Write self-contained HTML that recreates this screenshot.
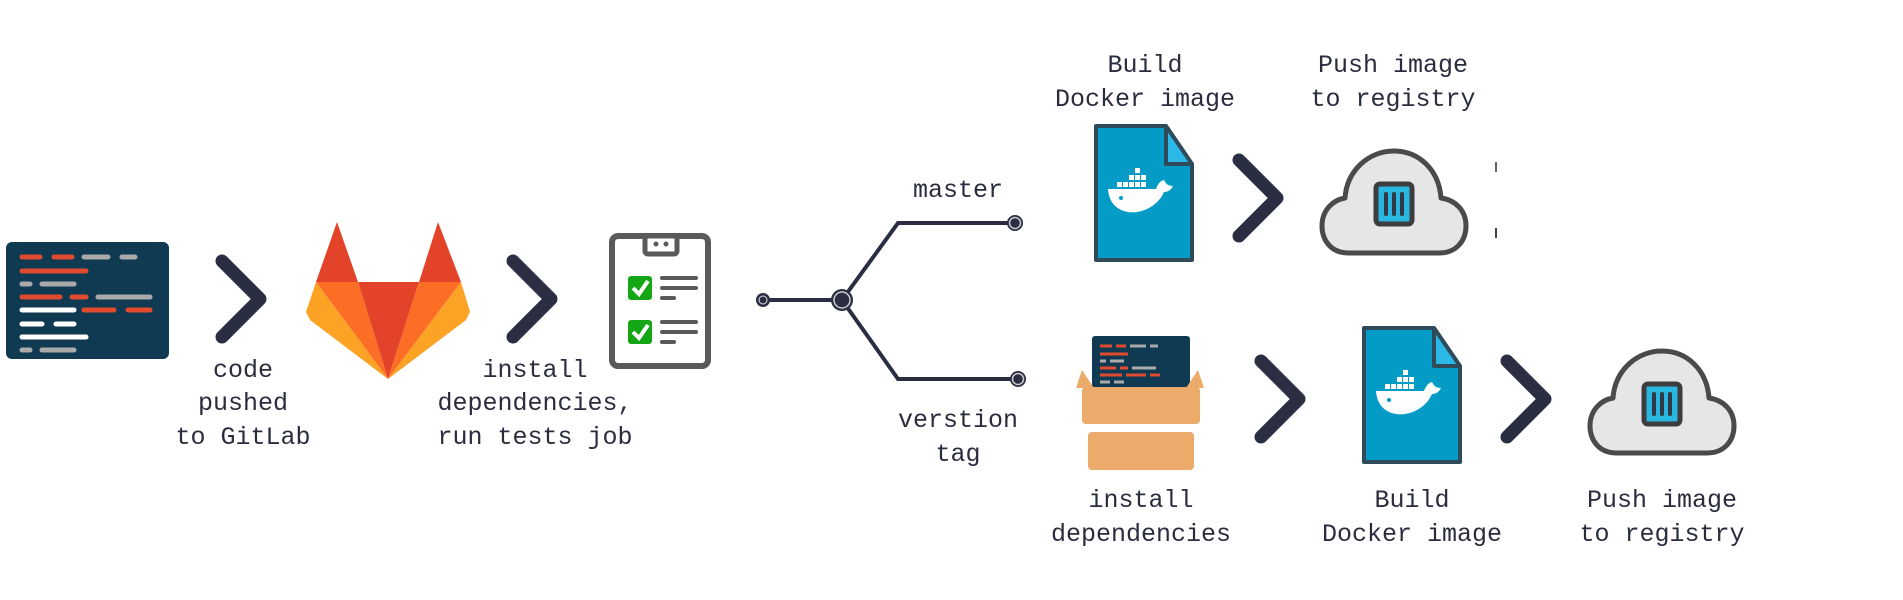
<!DOCTYPE html>
<html><head><meta charset="utf-8"><style>
html,body{margin:0;padding:0;background:#fff;}
svg{display:block}
text{font-family:"Liberation Mono",monospace;font-size:25px;fill:#2a2d3e;text-anchor:middle}
</style></head><body>
<svg width="1903" height="600" viewBox="0 0 1903 600" xmlns="http://www.w3.org/2000/svg">
<defs>
<g id="chev"><polyline points="0,0 38,38 0,76" fill="none" stroke="#2b2d42" stroke-width="13" stroke-linecap="round" stroke-linejoin="round"/></g>
<g id="dock">
  <path d="M2,2 H72 L98,40 V136 H2 Z" fill="#049bc6" stroke="#2f4b5a" stroke-width="4" stroke-linejoin="round"/>
  <path d="M72,2 V40 H98 Z" fill="#2cb8e6" stroke="#2f4b5a" stroke-width="4" stroke-linejoin="round"/>
  <g fill="#fff">
    <rect x="41" y="44" width="5" height="5"/>
    <rect x="35" y="51" width="5" height="5"/><rect x="41" y="51" width="5" height="5"/><rect x="47" y="51" width="5" height="5"/>
    <rect x="23" y="58" width="5" height="5"/><rect x="29" y="58" width="5" height="5"/><rect x="35" y="58" width="5" height="5"/><rect x="41" y="58" width="5" height="5"/><rect x="47" y="58" width="5" height="5"/>
    <path d="M14,65 H62 C64,60 66,57 70,56 C72,60 74,62 79,62 C77,66 74,68 70,68 C64,82 48,90 34,88 C22,86 15,78 14,65 Z"/>
  </g>
  <circle cx="27" cy="74" r="2" fill="#049bc6"/>
</g>
<g id="cloud">
  <path d="M30,105 C10,105 3,90 3,78 C3,62 14,52 26,50 C28,22 50,3 75,3 C100,3 120,22 122,50 C136,52 147,62 147,78 C147,92 138,105 120,105 Z" fill="#e6e6e6" stroke="#4a4a4a" stroke-width="5" stroke-linejoin="round"/>
  <rect x="57" y="36" width="36" height="40" rx="4" fill="#29b6e0" stroke="#3d3d3d" stroke-width="5"/>
  <g stroke="#2f3a44" stroke-width="4" stroke-linecap="round"><line x1="67" y1="46" x2="67" y2="66"/><line x1="75" y1="46" x2="75" y2="66"/><line x1="83" y1="46" x2="83" y2="66"/></g>
</g>
</defs>

<!-- code box -->
<rect x="6" y="242" width="163" height="117" rx="6" fill="#0f3a52"/>
<g stroke-width="5" stroke-linecap="round">
  <line x1="22" y1="257" x2="40" y2="257" stroke="#e04a2f"/><line x1="54" y1="257" x2="72" y2="257" stroke="#e04a2f"/><line x1="84" y1="257" x2="108" y2="257" stroke="#aaa"/><line x1="122" y1="257" x2="135" y2="257" stroke="#aaa"/>
  <line x1="22" y1="271" x2="86" y2="271" stroke="#e04a2f"/>
  <line x1="22" y1="284" x2="30" y2="284" stroke="#aaa"/><line x1="42" y1="284" x2="74" y2="284" stroke="#aaa"/>
  <line x1="22" y1="297" x2="60" y2="297" stroke="#e04a2f"/><line x1="72" y1="297" x2="86" y2="297" stroke="#e04a2f"/><line x1="98" y1="297" x2="150" y2="297" stroke="#aaa"/>
  <line x1="22" y1="310" x2="74" y2="310" stroke="#fff"/><line x1="84" y1="310" x2="114" y2="310" stroke="#e04a2f"/><line x1="128" y1="310" x2="150" y2="310" stroke="#e04a2f"/>
  <line x1="22" y1="324" x2="42" y2="324" stroke="#fff"/><line x1="56" y1="324" x2="74" y2="324" stroke="#fff"/>
  <line x1="22" y1="337" x2="86" y2="337" stroke="#fff"/>
  <line x1="22" y1="350" x2="30" y2="350" stroke="#aaa"/><line x1="42" y1="350" x2="74" y2="350" stroke="#aaa"/>
</g>
<line x1="22" y1="363" x2="0" y2="363" stroke="none"/>
<g stroke-width="5" stroke-linecap="round"><line x1="22" y1="350" x2="22" y2="350" stroke="none"/></g>

<use href="#chev" x="222" y="261"/>
<!-- gitlab -->
<polygon points="316,282 337,222 358,282" fill="#e24329"/>
<polygon points="419,282 438,222 461,282" fill="#e24329"/>
<polygon points="358,282 419,282 388,379" fill="#e24329"/>
<polygon points="316,282 358,282 388,379" fill="#fc6d26"/>
<polygon points="419,282 461,282 388,379" fill="#fc6d26"/>
<polygon points="316,282 306,312 310,320 388,379" fill="#fca326"/>
<polygon points="461,282 470,312 466,320 388,379" fill="#fca326"/>
<use href="#chev" x="513" y="261"/>
<!-- clipboard -->
<rect x="612" y="236" width="96" height="130" rx="6" fill="#fff" stroke="#5a5a5a" stroke-width="6"/>
<rect x="645" y="236" width="32" height="18" rx="3" fill="#fff" stroke="#5a5a5a" stroke-width="5"/>
<circle cx="656" cy="244" r="2.5" fill="#5a5a5a"/><circle cx="666" cy="244" r="2.5" fill="#5a5a5a"/>
<rect x="628" y="276" width="24" height="24" rx="3" fill="#14a614"/>
<rect x="628" y="320" width="24" height="24" rx="3" fill="#14a614"/>
<polyline points="633,288 639,294 648,281" fill="none" stroke="#fff" stroke-width="4"/>
<polyline points="633,332 639,338 648,325" fill="none" stroke="#fff" stroke-width="4"/>
<g stroke="#5a5a5a" stroke-width="4" stroke-linecap="round">
<line x1="662" y1="278" x2="696" y2="278"/><line x1="662" y1="288" x2="696" y2="288"/><line x1="662" y1="298" x2="674" y2="298"/>
<line x1="662" y1="322" x2="696" y2="322"/><line x1="662" y1="332" x2="696" y2="332"/><line x1="662" y1="342" x2="674" y2="342"/>
</g>

<text x="243" y="377">code</text>
<text x="243" y="410">pushed</text>
<text x="243" y="444">to GitLab</text>
<text x="535" y="377">install</text>
<text x="535" y="410">dependencies,</text>
<text x="535" y="444">run tests job</text>

<!-- branch -->
<g stroke="#2b2d42" stroke-width="4" fill="none">
<line x1="763" y1="300" x2="842" y2="300"/>
<polyline points="842,300 898,223 1015,223"/>
<polyline points="842,300 898,379 1018,379"/>
</g>
<circle cx="763" cy="300" r="7" fill="#2b2d42" stroke="#fff" stroke-width="0"/><circle cx="763" cy="300" r="4" fill="none" stroke="#ddd" stroke-width="1"/>
<circle cx="842" cy="300" r="11" fill="#2b2d42"/><circle cx="842" cy="300" r="8" fill="none" stroke="#ccc" stroke-width="1.5"/>
<circle cx="1015" cy="223" r="8" fill="#2b2d42"/><circle cx="1015" cy="223" r="5.5" fill="none" stroke="#ccc" stroke-width="1.5"/>
<circle cx="1018" cy="379" r="8" fill="#2b2d42"/><circle cx="1018" cy="379" r="5.5" fill="none" stroke="#ccc" stroke-width="1.5"/>
<text x="958" y="197">master</text>
<text x="958" y="427">verstion</text>
<text x="958" y="461">tag</text>

<!-- top row -->
<text x="1145" y="72">Build</text>
<text x="1145" y="106">Docker image</text>
<text x="1393" y="72">Push image</text>
<text x="1393" y="106">to registry</text>
<use href="#dock" x="1094" y="124"/>
<use href="#chev" x="1239" y="160"/>
<use href="#cloud" x="1319" y="148"/>
<line x1="1496" y1="162" x2="1496" y2="172" stroke="#666" stroke-width="2"/>
<line x1="1496" y1="228" x2="1496" y2="238" stroke="#444" stroke-width="2"/>

<!-- bottom row -->
<rect x="1092" y="336" width="98" height="52" rx="3" fill="#0f3a52"/>
<g stroke-width="3">
<line x1="1100" y1="346" x2="1112" y2="346" stroke="#e04a2f"/><line x1="1116" y1="346" x2="1126" y2="346" stroke="#e04a2f"/><line x1="1130" y1="346" x2="1146" y2="346" stroke="#aaa"/><line x1="1150" y1="346" x2="1158" y2="346" stroke="#aaa"/>
<line x1="1100" y1="354" x2="1128" y2="354" stroke="#e04a2f"/>
<line x1="1100" y1="361" x2="1106" y2="361" stroke="#aaa"/><line x1="1110" y1="361" x2="1124" y2="361" stroke="#aaa"/>
<line x1="1100" y1="368" x2="1116" y2="368" stroke="#e04a2f"/><line x1="1120" y1="368" x2="1128" y2="368" stroke="#e04a2f"/><line x1="1132" y1="368" x2="1156" y2="368" stroke="#aaa"/>
<line x1="1100" y1="375" x2="1122" y2="375" stroke="#e04a2f"/><line x1="1126" y1="375" x2="1146" y2="375" stroke="#e04a2f"/><line x1="1150" y1="375" x2="1160" y2="375" stroke="#e04a2f"/>
<line x1="1100" y1="382" x2="1110" y2="382" stroke="#aaa"/><line x1="1114" y1="382" x2="1124" y2="382" stroke="#aaa"/>
</g>
<polygon points="1076,388 1082,370 1094,388" fill="#edab6b"/>
<polygon points="1204,388 1198,370 1186,388" fill="#edab6b"/>
<rect x="1082" y="387" width="118" height="37" rx="4" fill="#edab6b"/>
<rect x="1088" y="432" width="106" height="38" rx="4" fill="#edab6b"/>
<use href="#dock" x="1362" y="326"/>
<use href="#chev" x="1261" y="361"/>
<use href="#chev" x="1507" y="361"/>
<use href="#cloud" x="1587" y="348"/>
<text x="1141" y="507">install</text>
<text x="1141" y="541">dependencies</text>
<text x="1412" y="507">Build</text>
<text x="1412" y="541">Docker image</text>
<text x="1662" y="507">Push image</text>
<text x="1662" y="541">to registry</text>
</svg>
</body></html>
